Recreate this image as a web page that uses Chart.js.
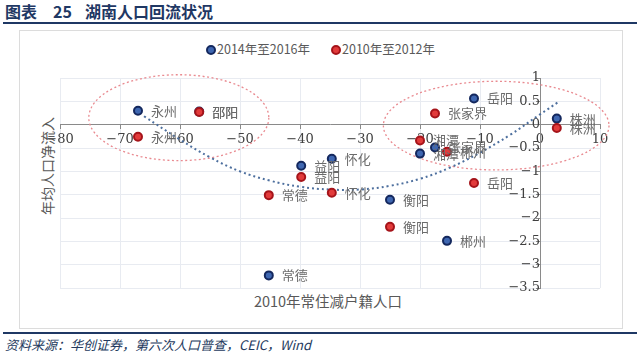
<!DOCTYPE html>
<html><head><meta charset="utf-8">
<script src="https://cdn.jsdelivr.net/npm/chart.js@4.4.1/dist/chart.umd.min.js"></script>
<style>
html,body{margin:0;padding:0;background:#fff;width:640px;height:357px;overflow:hidden;position:relative;font-family:"Noto Sans CJK SC",sans-serif;}
.t{position:absolute;top:2px;font-weight:bold;font-size:16px;line-height:18px;color:#1f3864;white-space:nowrap;}
#tline{position:absolute;left:3px;top:22px;width:634px;height:2px;background:#1f3864;}
#frame{position:absolute;left:19px;top:30px;width:602px;height:297px;border:1px solid #dcdcdc;}
#bline{position:absolute;left:3px;top:332px;width:634px;height:2px;background:#1f3864;}
#foot{position:absolute;left:5px;top:337px;font-style:italic;font-size:13px;line-height:16px;color:#243a5e;white-space:nowrap;}
.leg{position:absolute;top:41px;font-size:12.5px;line-height:16px;color:#595959;white-space:nowrap;}
.dot{display:inline-block;width:6px;height:6px;border-radius:50%;border-width:2px;border-style:solid;vertical-align:-1px;margin-right:1px;}
#xt{position:absolute;left:228px;width:200px;text-align:center;top:292px;font-size:14.5px;line-height:18px;color:#595959;white-space:nowrap;}
#yt{position:absolute;left:47px;top:166px;transform:translate(-50%,-50%) rotate(-90deg);font-size:14px;line-height:16px;color:#595959;white-space:nowrap;}
canvas{position:absolute;left:0;top:0;}
</style></head>
<body>
<div class="t" style="left:5px">图表</div>
<div class="t" style="left:53px">25</div>
<div class="t" style="left:85px">湖南人口回流状况</div>
<div id="tline"></div>
<div id="frame"></div>
<div class="leg" style="left:206px"><span class="dot" style="background:#3f67b1;border-color:#14285e"></span>2014年至2016年</div>
<div class="leg" style="left:331px"><span class="dot" style="background:#e23b3b;border-color:#a5141a"></span>2010年至2012年</div>
<div id="xt">2010年常住减户籍人口</div>
<div id="yt">年均人口净流入</div>
<div id="bline"></div>
<div id="foot">资料来源：华创证券，第六次人口普查，CEIC，Wind</div>
<canvas id="c" width="640" height="357"></canvas>
<script>
const cities = ['永州','邵阳','益阳','怀化','常德','衡阳','湘潭','张家界','郴州','岳阳','株洲'];
const popDiff2010 = [-67,-56.8,-39.8,-34.7,-45.2,-25,-20,-17.5,-15.5,-11,2.8];
const inflow2014to2016 = [0.30,0.28,-0.88,-0.73,-3.23,-1.61,-0.62,-0.49,-2.49,0.56,0.13];
const inflow2010to2012 = [-0.26,0.27,-1.12,-1.46,-1.51,-2.19,-0.34,0.24,-0.58,-1.25,-0.07];
const trendX = [-66,-60,-55,-50,-45,-40,-35,-30,-25,-20,-15,-10,-5,0,3];
const trendY = [0.18,-0.32,-0.70,-1.00,-1.20,-1.33,-1.39,-1.39,-1.31,-1.16,-0.92,-0.60,-0.22,0.22,0.48];
const xTicks = [-80,-70,-60,-50,-40,-30,-20,-10,0,10];
const yTicks = [1,0.5,0,-0.5,-1,-1.5,-2,-2.5,-3,-3.5];
const ellipseCX = [-60.2,-7.3];
const ellipseCY = [0.15,-0.02];
const ellipseRX = [15,18.8];
const ellipseRY = [0.92,0.95];

const pts = (xs, ys) => xs.map((x,i)=>({x, y: ys[i]}));
const fmt = v => v < 0 ? '\u2212' + Math.abs(v) : String(v);

const ellipsePlugin = {
  id:'ellipses',
  beforeDatasetsDraw(chart){
    const {ctx, scales:{x, y}} = chart;
    ctx.save();
    ctx.strokeStyle = '#e98a90';
    ctx.lineWidth = 1.3;
    ctx.setLineDash([2,2.5]);
    ellipseCX.forEach((cx,i)=>{
      const px = x.getPixelForValue(cx), py = y.getPixelForValue(ellipseCY[i]);
      const rx = Math.abs(x.getPixelForValue(cx+ellipseRX[i]) - px);
      const ry = Math.abs(y.getPixelForValue(ellipseCY[i]+ellipseRY[i]) - py);
      ctx.beginPath(); ctx.ellipse(px, py, rx, ry, 0, 0, Math.PI*2); ctx.stroke();
    });
    ctx.restore();
  }
};
const labelPlugin = {
  id:'ptlabels',
  afterDatasetsDraw(chart){
    const {ctx} = chart;
    ctx.save();
    ctx.font = '13px "Noto Sans CJK SC"';
    ctx.fillStyle = '#6b6b6b';
    ctx.textAlign = 'left'; ctx.textBaseline = 'middle';
    chart.data.datasets.forEach((ds,di)=>{
      if(!ds.cityLabels) return;
      chart.getDatasetMeta(di).data.forEach((el,i)=>{
        ctx.fillText(ds.cityLabels[i], el.x + 13, el.y);
      });
    });
    ctx.restore();
  }
};

new Chart(document.getElementById('c'), {
  type:'scatter',
  data:{datasets:[
    {label:'2014年至2016年', data:pts(popDiff2010, inflow2014to2016), cityLabels:cities,
     backgroundColor:'#3f67b1', borderColor:'#14285e', borderWidth:2, pointRadius:4, pointHoverRadius:4, order:1},
    {label:'2010年至2012年', data:pts(popDiff2010, inflow2010to2012), cityLabels:cities,
     backgroundColor:'#e23b3b', borderColor:'#a5141a', borderWidth:2, pointRadius:4, pointHoverRadius:4, order:0},
    {type:'line', label:'趋势', data:pts(trendX, trendY), showLine:true, fill:false,
     borderColor:'#4d6f9e', borderWidth:2, borderDash:[2,3], pointRadius:0, tension:0.4, order:2}
  ]},
  options:{
    responsive:false, animation:false, events:[],
    layout:{padding:{left:60,right:40,top:78,bottom:69}},
    plugins:{legend:{display:false}, title:{display:false}, tooltip:{enabled:false}},
    scales:{
      x:{type:'linear', min:-80, max:10, position:{y:0},
        afterBuildTicks: s => { s.ticks = xTicks.map(v=>({value:v})); },
        ticks:{callback:fmt, font:{family:'DejaVu Serif', size:13}, color:'#404040', padding:3, maxRotation:0, autoSkip:false},
        grid:{color:'#e8ebf1', tickColor:'#8a8a8a', tickLength:4},
        border:{color:'#8a8a8a', width:1}},
      y:{type:'linear', min:-3.5, max:1, position:{x:0},
        afterBuildTicks: s => { s.ticks = yTicks.map(v=>({value:v})); },
        ticks:{callback:fmt, font:{family:'DejaVu Serif', size:13}, color:'#404040', padding:2, autoSkip:false},
        grid:{color:'#e8ebf1', tickColor:'#8a8a8a', tickLength:4},
        border:{color:'#8a8a8a', width:1}}
    }
  },
  plugins:[ellipsePlugin, labelPlugin]
});
</script>
</body></html>
